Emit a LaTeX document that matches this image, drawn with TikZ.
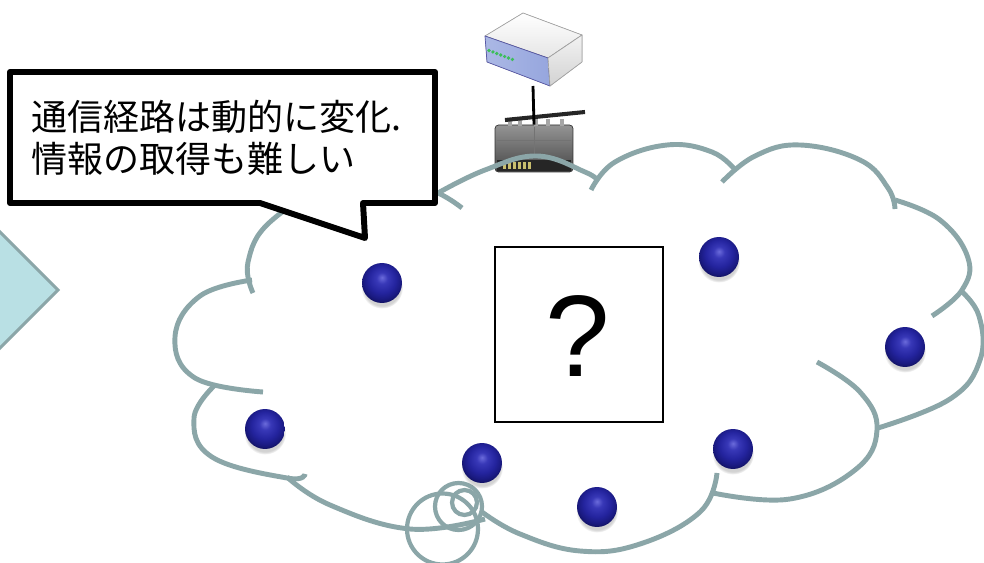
\documentclass[tikz,border=0pt]{standalone}
\usepackage{fontspec}
\setmainfont{Liberation Sans}
\newfontfamily\jpfont{Noto Sans CJK JP}
\newfontfamily\qfont{Liberation Sans}
\usetikzlibrary{shadows}

\definecolor{cloudline}{RGB}{139,166,168}
\definecolor{arrowfill}{RGB}{185,224,228}
\definecolor{modemblue}{RGB}{150,166,222}
\definecolor{ledgreen}{RGB}{60,190,90}
\definecolor{ledyellow}{RGB}{200,190,110}

% sphere used for the network nodes
\pgfdeclareradialshading{nodeball}{\pgfqpoint{0bp}{7bp}}{%
  rgb(0bp)=(0.42,0.42,0.86);
  rgb(7bp)=(0.22,0.22,0.72);
  rgb(17bp)=(0.14,0.14,0.62);
  rgb(24bp)=(0.10,0.10,0.50);
  rgb(31bp)=(0.05,0.05,0.30);
  rgb(50bp)=(0.05,0.05,0.30)}

\tikzset{
  lobe/.style={draw=cloudline, line width=2.8pt},
  bubble/.style={draw=cloudline, line width=2.4pt},
  netnode/.style={circle, minimum size=0.8cm, inner sep=0pt, shading=nodeball,
    circular drop shadow={shadow xshift=0pt, shadow yshift=-2.5pt, shadow scale=1.05, opacity=0.35}},
  callout/.style={draw=black, fill=white, line width=3.4pt, line join=round},
  calltext/.style={font=\jpfont\fontsize{20.5}{25}\selectfont, anchor=base west, inner sep=0pt},
  curvy/.style={smooth, tension=0.7},
}

\begin{document}
\begin{tikzpicture}[x=0.02cm,y=-0.02cm]
\useasboundingbox (0,0) rectangle (984,563);
\clip (0,0) rectangle (984,563);
\fill[white] (0,0) rectangle (984,563);

% arrow head on the left edge
\filldraw[fill=arrowfill, draw=cloudline, line width=1.8pt, line join=miter]
  (-40,192) -- (58,290) -- (-40,388) -- cycle;

% modem
\filldraw[top color=white, bottom color=gray!20, draw=gray!70, line width=0.4pt, line join=round]
  (485,36) -- (523,13) -- (582,35) -- (548,58) -- cycle;
\filldraw[left color=modemblue!80, right color=modemblue, draw=gray!70!blue, line width=0.4pt, line join=round]
  (485,36) -- (548,58) -- (550,86) -- (487,62) -- cycle;
\filldraw[top color=gray!10, bottom color=gray!35, draw=gray!70, line width=0.4pt, line join=round]
  (548,58) -- (582,35) -- (582,62) -- (550,86) -- cycle;
\foreach \i in {0,...,6}
  \fill[ledgreen] ({489+\i*3.9},{50.5+\i*1.5}) circle[radius=1.05pt];
\coordinate (modembase) at (533,86);

% router
\node[rectangle, rounded corners=2pt, minimum width=1.56cm, minimum height=0.94cm,
      top color=black!42, bottom color=black!72, draw=black!80, line width=0.4pt]
  (router) at (534,148.5) {};
\fill[black!85] (497,160) rectangle (571,171);
\draw[black!55, line width=0.3pt] (497,140) -- (571,140);
\draw[black!55, line width=0.3pt] (534,127) -- (534,158);
\foreach \i in {0,...,5}
  \fill[ledyellow] ({503+\i*5},162) rectangle ({505.5+\i*5},169);
\foreach \x in {508,518,534,546,560}
  \fill[black!35] (\x,119) rectangle ({\x+4},126);
\draw[black!85, line width=2.3pt] (505,120) -- (585,112);
\draw[black, line width=1.6pt] (modembase) -- (router.north);

% thought cloud, one arc per lobe
\draw[lobe] plot[curvy] coordinates {(253,293) (248,262) (270,222) (330,188) (400,180) (438,193) (462,208)};
\draw[lobe] plot[curvy] coordinates {(438,193) (485,170) (537,156) (585,172) (598,181)};
\draw[lobe] plot[curvy] coordinates {(591,190) (615,162) (667,145) (712,152) (736,171)};
\draw[lobe] plot[curvy] coordinates {(722,182) (755,156) (800,145) (860,160) (888,188) (895,209)};
\draw[lobe] plot[curvy] coordinates {(895,200) (940,220) (968,258) (962,290) (932,316)};
\draw[lobe] plot[curvy] coordinates {(960,290) (979,316) (980,360) (950,399) (878,428)};
\draw[lobe] plot[curvy] coordinates {(817,362) (860,392) (877,430) (855,470) (790,499) (713,493)};
\draw[lobe] plot[curvy] coordinates {(717,473) (700,512) (640,544) (580,551) (520,534) (482,512)};
\draw[lobe] plot[curvy] coordinates {(287,477) (330,505) (410,529) (485,519)};
\draw[lobe] plot[curvy] coordinates {(215,385) (194,418) (212,457) (287,478) (305,474)};
\draw[lobe] plot[curvy] coordinates {(252,280) (200,296) (175,337) (195,378) (263,392)};

% small thought bubbles
\draw[bubble] (442.5,529) circle[radius=0.71cm];
\draw[bubble] (458.5,506.5) circle[radius=0.47cm];
\draw[bubble] (464.5,502.5) circle[radius=0.25cm];

% speech callout
\draw[callout] (10,72) -- (435,72) -- (435,203) -- (363,203) -- (365,238) -- (260,203) -- (10,203) -- cycle;
\node[calltext] (line1) at (31,131) {通信経路は動的に変化.};
\node[calltext] (line2) at (31,173) {情報の取得も難しい};

% unknown route box
\node[draw=black, line width=1.1pt, fill=white, minimum width=3.36cm, minimum height=3.5cm, inner sep=0pt]
  (qbox) at (579,334.5) {};
\node[font=\qfont\fontsize{66}{70}\selectfont, anchor=base, inner sep=0pt] (qmark) at (578,377) {?};

% network nodes
\node[netnode] (n1) at (382,283) {};
\node[netnode] (n2) at (719,257) {};
\node[netnode] (n3) at (905,347) {};
\node[netnode] (n4) at (265,429) {};
\node[netnode] (n5) at (482,463) {};
\node[netnode] (n6) at (733,449) {};
\node[netnode] (n7) at (597,507) {};
\end{tikzpicture}
\end{document}
